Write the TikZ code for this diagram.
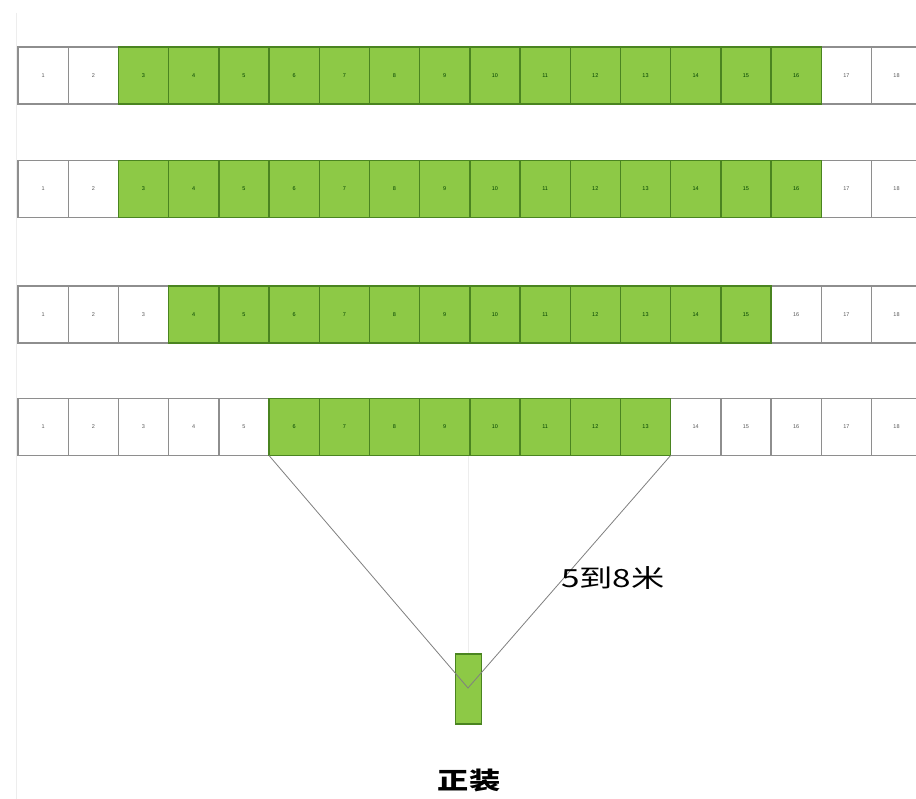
\documentclass[tikz,border=0pt]{standalone}
\usepackage{fontspec}
\usepackage{graphicx}
\setmainfont{Liberation Sans}
\newfontfamily\cjk{Noto Sans CJK SC}
\definecolor{cellgreen}{HTML}{8DC946}
\definecolor{edgegreen}{HTML}{4A8420}
\definecolor{edgegray}{HTML}{8E8E8E}
\definecolor{faint}{HTML}{EDEDED}
\tikzset{
  cellw/.style={draw=edgegray, fill=white, line width=1.4pt, minimum width=50.2pt, minimum height=57pt, inner sep=0pt, outer sep=0pt, font=\fontsize{5.5}{6}\selectfont, text=black!65},
  cellg/.style={cellw, draw=edgegreen, fill=cellgreen, text=black!75!green},
  conn/.style={draw=black!50, line width=0.8pt},
  faintline/.style={draw=faint, line width=0.8pt}
}
\begin{document}
\begin{tikzpicture}[x=1pt,y=-1pt]
\useasboundingbox (0,0) rectangle (916,799);
\fill[white] (0,0) rectangle (916,799);
\draw[faintline] (16,13) -- (16,799);
% rows: center y, first green, last green
\foreach \r/\cy/\ga/\gb in {1/75.5/3/16, 2/189/3/16, 3/314.5/4/15, 4/427/6/13}{
  \foreach \i in {1,...,18}{
    \pgfmathsetmacro{\cx}{18+50.2*(\i-0.5)}
    \ifnum\i<\ga
      \node[cellw] (c\r-\i) at (\cx,\cy) {\i};
    \else\ifnum\i>\gb
      \node[cellw] (c\r-\i) at (\cx,\cy) {\i};
    \fi\fi
  }
  \foreach \i in {\ga,...,\gb}{
    \pgfmathsetmacro{\cx}{18+50.2*(\i-0.5)}
    \node[cellg] (c\r-\i) at (\cx,\cy) {\i};
  }
}
\draw[faintline] (468,456) -- (468,654);
\node[draw=edgegreen, fill=cellgreen, line width=1.2pt, minimum width=26pt, minimum height=70pt, inner sep=0pt, outer sep=0pt] (dev) at (468.5,689) {};
\coordinate (v) at (468,688);
\draw[conn] (c4-6.south west) -- (v) -- (c4-13.south east);
\node[anchor=west, inner sep=0pt] (lbl) at (561,578) {\scalebox{1.33}[1]{\cjk\fontsize{25}{25}\selectfont 5到8米}};
\node[inner sep=0pt] (title) at (469,780) {\scalebox{1.3}[1]{\cjk\bfseries\fontsize{24}{24}\selectfont 正装}};
\end{tikzpicture}
\end{document}
